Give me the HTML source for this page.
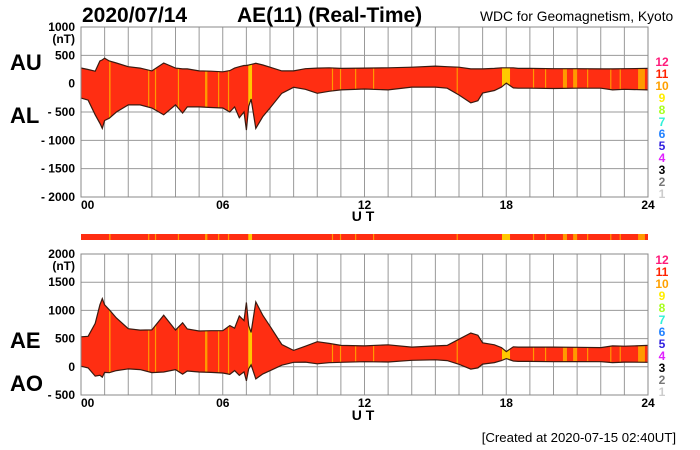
<!DOCTYPE html>
<html><head><meta charset="utf-8"><style>
body{margin:0;background:#fff;}
svg{display:block;font-family:"Liberation Sans",Arial,sans-serif;}
</style></head><body>
<svg id="chart" width="700" height="450" viewBox="0 0 700 450">
<text x="82" y="22" font-size="21" font-weight="bold">2020/07/14</text>
<text x="237" y="22" font-size="21" font-weight="bold">AE(11) (Real-Time)</text>
<text x="480" y="21" font-size="13.8">WDC for Geomagnetism, Kyoto</text>
<text x="10" y="70" font-size="22" font-weight="bold">AU</text>
<text x="10" y="123" font-size="22" font-weight="bold">AL</text>
<text x="10" y="348" font-size="22" font-weight="bold">AE</text>
<text x="10" y="391" font-size="22" font-weight="bold">AO</text>
<text x="363" y="221" font-size="14" font-weight="bold" text-anchor="middle">U T</text>
<text x="363" y="420" font-size="14" font-weight="bold" text-anchor="middle">U T</text>
<text x="676" y="442" font-size="13.2" text-anchor="end">[Created at 2020-07-15 02:40UT]</text>
<g id="layer"></g>
</svg>
<script>
const hours=[0,0.3,0.6,0.8,0.9,1.0,1.2,1.5,2,2.5,3,3.5,4,4.3,4.5,5,5.5,6,6.3,6.5,6.7,6.9,7.0,7.1,7.2,7.4,7.7,8,8.5,9,9.5,10,10.5,11,12,13,14,15,15.5,16,16.5,16.8,17,17.5,17.8,18,18.3,18.5,19,20,21,22,22.5,23,24];
const au=[277,250,220,400,420,450,400,365,300,275,225,365,275,260,260,225,220,210,230,275,300,320,320,330,340,360,330,290,225,225,265,275,280,270,275,280,290,310,300,290,260,260,260,270,280,280,280,270,270,265,265,260,260,265,270];
const al=[-255,-290,-550,-700,-790,-650,-610,-500,-375,-375,-430,-550,-375,-520,-410,-410,-420,-430,-500,-410,-600,-500,-820,-400,-270,-790,-580,-430,-170,-65,-100,-170,-135,-110,-95,-110,-60,-60,-80,-200,-340,-300,-165,-120,-60,10,-75,-80,-80,-85,-80,-80,-110,-100,-110];
const stripeStart=[1.19,2.84,3.13,4.1,5.25,5.8,6.22,7.08,10.62,10.96,11.6,12.36,15.9,17.82,19.13,19.64,20.4,20.83,21.42,22.4,22.8,23.58];
const stripeEnd=[1.25,2.89,3.18,4.15,5.35,5.85,6.27,7.24,10.67,11.01,11.65,12.41,15.95,18.16,19.18,19.69,20.57,21.0,21.47,22.45,22.85,23.87];
const stripeCount=[10,10,10,10,10,10,10,9,10,10,10,10,10,9,10,10,10,10,10,10,10,10];
const topTicks=[1000,500,0,-500,-1000,-1500,-2000];
const topTickLabels=["1000","500","0","- 500","- 1000","- 1500","- 2000"];
const botTicks=[2000,1500,1000,500,0,-500];
const botTickLabels=["2000","1500","1000","500","0","- 500"];
const xTicks=[0,6,12,18,24];
const xTickLabels=["00","06","12","18","24"];
const legendNums=[12,11,10,9,8,7,6,5,4,3,2,1];
const legendColors=["#ff1a7a","#ff2200","#ffa000","#ffee00","#a8ff20","#30f0d8","#2080ff","#3020e0","#e020ff","#000000","#777777","#cccccc"];

const NS="http://www.w3.org/2000/svg";
const layer=document.getElementById('layer');
const X0=81,X1=648;
const xs=h=>X0+(X1-X0)*h/24;
const topY=v=>27+(1000-v)*(170/3000);
const botY=v=>254+(2000-v)*(141/2500);
function mk(tag,attrs,parent){const e=document.createElementNS(NS,tag);for(const k in attrs)e.setAttribute(k,attrs[k]);(parent||layer).appendChild(e);return e;}
const stripeColor=c=>c===9?"#ffc800":"#ff9a00";

function panel(id,yf,yTop,yBot,ticks,labels,upper,lower,legendY0){
  const g=mk('g',{});
  
  
  for(let h=0;h<=24;h++){
    const l=mk('line',{x1:xs(h),x2:xs(h),y1:yTop,y2:yBot,stroke:'#999','stroke-width':1},g);
    
    
  }
  ticks.forEach((t,i)=>{
    const l=mk('line',{x1:X0,x2:X1,y1:yf(t),y2:yf(t),stroke:'#999','stroke-width':1},g);
    
    
    const tx=mk('text',{x:75,y:yf(t)+4,'font-size':12,'font-weight':'bold','text-anchor':'end'},g);
    tx.textContent=labels[i];
    
    
  });
  const nt=mk('text',{x:75,y:yf(ticks[0])+16,'font-size':12,'font-weight':'bold','text-anchor':'end'},g);
  nt.textContent='(nT)';
  
  
  let d='';
  hours.forEach((h,i)=>{d+=(i?'L':'M')+xs(h).toFixed(1)+','+yf(upper[i]).toFixed(1);});
  for(let i=hours.length-1;i>=0;i--)d+='L'+xs(hours[i]).toFixed(1)+','+yf(lower[i]).toFixed(1);
  d+='Z';
  const cp=mk('clipPath',{id:id+'-clip'},g);
  mk('path',{d:d},cp);
  const area=mk('path',{d:d,fill:'#ff2e12',stroke:'none'},g);
  
  
  const sg=mk('g',{'clip-path':'url(#'+id+'-clip)'},g);
  stripeStart.forEach((s,i)=>{
    const r=mk('rect',{x:xs(s),y:yTop,width:Math.max(1,xs(stripeEnd[i])-xs(s)),height:yBot-yTop,fill:stripeColor(stripeCount[i])},sg);
    
    
  });
  let up='',lo='';
  hours.forEach((h,i)=>{up+=(i?'L':'M')+xs(h).toFixed(1)+','+yf(upper[i]).toFixed(1);lo+=(i?'L':'M')+xs(h).toFixed(1)+','+yf(lower[i]).toFixed(1);});
  const ul=mk('path',{d:up,fill:'none',stroke:'#3a1a10','stroke-width':1.2},g);
  
  
  const ll=mk('path',{d:lo,fill:'none',stroke:'#3a1a10','stroke-width':1.2},g);
  
  
  const fr=mk('rect',{x:X0,y:yTop,width:X1-X0,height:yBot-yTop,fill:'none',stroke:'#888'},g);
  
  
  xTicks.forEach((t,i)=>{
    const tx=mk('text',{x:xs(t),y:yBot+12,'font-size':12,'font-weight':'bold','text-anchor':t===0?'start':'middle'},g);
    tx.textContent=xTickLabels[i];
    
    
  });
  legendNums.forEach((n,i)=>{
    const tx=mk('text',{x:662,y:legendY0+i*12+5,'font-size':12,'font-weight':'bold','text-anchor':'middle',fill:legendColors[i]},g);
    tx.textContent=String(n);
    
    
  });
}
panel('au-al',topY,27,197,topTicks,topTickLabels,au,al,61);
const ae=au.map((v,i)=>v-al[i]);
const ao=au.map((v,i)=>(v+al[i])/2);
panel('ae-ao',botY,254,395,botTicks,botTickLabels,ae,ao,259);
const strip=mk('g',{});


mk('rect',{x:X0,y:234,width:X1-X0,height:6,fill:'#ff2e12'},strip);
stripeStart.forEach((s,i)=>{
  const r=mk('rect',{x:xs(s),y:234,width:Math.max(1,xs(stripeEnd[i])-xs(s)),height:6,fill:stripeColor(stripeCount[i])},strip);
  
  
});
</script>
</body></html>
